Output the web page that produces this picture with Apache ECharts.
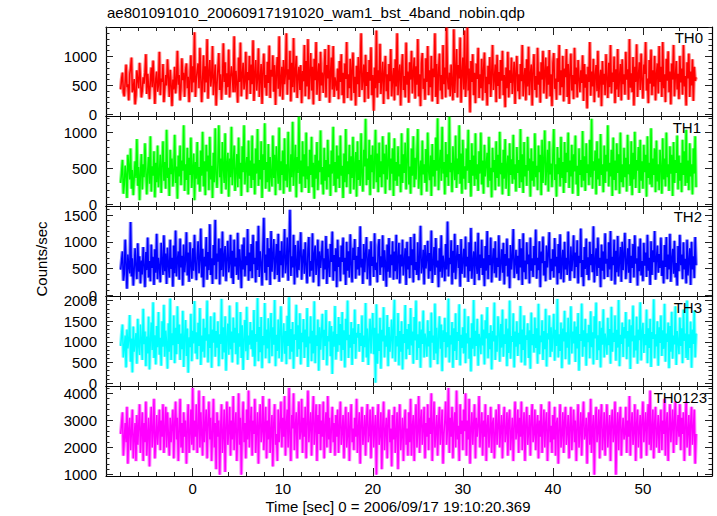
<!DOCTYPE html>
<html><head><meta charset="utf-8">
<script src="https://cdn.jsdelivr.net/npm/echarts@6/dist/echarts.min.js"></script>
<style>html,body{margin:0;padding:0;background:#fff}#c{width:717px;height:516px}</style>
</head><body><div id="c"></div>
<script>
const plotTitle = 'ae801091010_20060917191020_wam1_bst_4band_nobin.qdp';
const xTitle = 'Time [sec] 0 = 2006/09/17 19:10:20.369';
const yTitle = 'Counts/sec';
const bandNames = ['TH0', 'TH1', 'TH2', 'TH3', 'TH0123'];
const bandColors = ['#ff0000', '#00ff00', '#0000ff', '#00ffff', '#ff00ff'];
const tStart = -8, binSize = 0.1;

const th0 = [
430,610,720,380,310,560,860,470,520,240,690,800,980,380,450,610,170,330,760,590,
450,890,620,290,410,640,530,720,1040,350,700,480,260,590,810,470,930,540,180,620,
740,390,510,1080,330,620,560,870,210,450,680,500,950,640,300,770,520,140,600,430,
820,360,580,1100,510,680,240,470,970,590,720,300,760,880,450,650,210,640,1020,380,
830,550,1420,300,610,760,880,450,1150,620,210,640,1020,380,830,550,1300,270,720,940,
480,640,1180,330,610,860,150,520,790,1060,420,690,250,570,1230,560,900,340,710,470,
1120,290,640,830,640,380,1350,380,750,520,200,980,560,1240,310,680,890,430,580,1080,
260,730,590,1010,350,860,520,1280,230,700,940,410,620,1140,300,620,870,180,760,1050,
460,680,320,910,540,1190,280,770,650,1020,390,850,160,720,990,440,1350,310,600,820,
250,940,520,700,1400,340,780,600,1100,220,890,470,1320,380,730,1010,280,660,820,420,
850,190,750,570,1200,310,920,480,1300,260,700,1060,410,820,170,960,590,1250,340,680,
880,230,1080,500,720,370,760,1130,290,850,620,1200,200,710,980,430,1180,300,640,540,
410,790,260,920,560,1040,330,720,190,880,610,1250,280,690,450,960,240,780,1070,370,
650,150,840,520,990,300,710,1400,420,620,860,210,1030,490,730,270,940,580,1160,330,
680,60,810,450,1450,290,760,540,1220,350,640,910,180,730,1010,400,690,260,870,570,
1130,310,620,800,240,950,480,1400,330,700,860,150,780,1040,420,660,290,1240,510,740,
200,900,600,1100,360,720,980,270,830,510,1300,310,690,140,880,1060,440,620,250,970,
560,1180,330,760,470,1010,220,790,640,1400,300,870,180,720,1050,410,680,260,1200,520,
810,290,1500,610,430,720,310,860,520,240,1470,370,760,1130,290,850,620,1330,200,710,
980,430,1450,300,640,1500,410,790,30,920,560,1040,330,720,190,880,610,1150,280,690,
450,960,240,780,1070,370,650,150,840,520,990,300,710,1200,420,620,860,210,1030,490,
730,270,940,580,1100,330,680,120,810,450,1080,290,760,540,980,350,640,910,180,730,
1010,400,690,260,870,570,1200,310,620,800,240,950,480,1170,330,700,860,150,780,1040,
420,660,290,1150,510,740,200,900,600,1100,360,720,980,270,830,510,1110,310,690,140,
880,1060,440,620,250,970,560,1200,330,760,470,1010,220,790,640,1130,300,870,180,720,
1050,410,680,260,1150,520,810,290,940,610,380,760,540,1020,230,870,460,690,100,820,
560,1250,320,740,480,960,210,680,850,400,1100,290,630,770,140,920,510,700,330,1040,
610,280,890,470,1200,360,720,560,1000,190,780,430,1130,300,660,870,240,950,520,690,
340,1080,600,780,250,1300,460,710,380,990,150,820,560,1210,300,670,900,420,1050,590,
270,860,700,1250,410,620,190,940,530,1120,330,760,480,1010,240,700,880,360,1180,560,
820,300,1250,450,690,210,960,580,1090,380,740,170,880,600,1200,310,650,920,430,700,
260,1010,550,790,340,1200,480,660,150,900,620,1050,300,740,500,950,230,820,580,640];

const th1 = [
300,450,620,150,280,540,410,90,690,520,350,780,220,480,130,370,600,370,910,260,
520,60,440,700,210,560,380,850,470,140,470,660,290,950,180,530,400,740,100,580,
310,820,240,450,690,160,550,880,330,590,220,1040,370,510,120,760,420,640,250,470,
970,300,530,80,680,390,820,270,610,470,1100,190,560,340,790,140,650,410,930,230,
500,710,60,590,360,870,280,520,180,750,400,1010,250,600,130,830,460,680,200,940,
350,540,90,720,310,1060,420,230,580,1100,380,640,150,870,500,300,990,210,570,720,
110,640,380,1080,270,550,820,190,460,700,240,930,360,580,120,810,450,1100,280,530,
660,170,890,400,610,230,960,340,570,140,780,430,1050,260,620,350,880,90,700,480,
1130,220,590,310,840,180,660,400,250,960,370,690,130,810,520,290,1070,200,600,410,
750,150,920,330,560,240,1010,450,180,700,380,1150,260,540,830,100,660,440,1220,290,
610,170,880,390,700,230,1000,350,530,160,760,410,940,240,580,80,690,360,870,200,
610,450,1030,280,520,140,790,330,620,210,900,380,560,120,750,430,1080,260,590,170,
820,360,680,230,960,400,540,90,710,310,1050,240,600,420,830,150,670,370,940,210,
550,730,110,880,340,620,260,990,400,180,760,530,1190,270,640,340,900,130,690,450,
820,220,580,1040,310,710,170,860,380,600,240,950,420,710,150,830,350,560,1000,200,
640,430,780,120,920,330,590,260,810,390,560,170,990,300,700,440,860,210,620,1060,
280,530,150,780,400,950,240,650,350,700,1050,220,480,610,130,890,420,560,300,770,
180,1000,460,340,680,120,840,390,620,250,930,470,1200,200,560,760,330,1080,430,590,
140,870,380,700,260,1220,450,580,170,810,520,340,960,230,640,420,1100,290,710,150,
900,360,530,210,780,470,1040,300,620,110,850,400,680,260,990,350,560,190,740,430,
1000,280,610,150,830,390,560,720,240,940,330,510,100,790,450,620,200,880,370,690,
250,1010,420,580,140,760,360,910,220,540,680,120,850,410,630,290,970,350,560,180,
800,440,620,230,1050,310,700,160,870,390,550,260,940,470,640,110,780,330,600,250,
990,380,540,200,820,450,690,130,900,300,610,1030,270,500,760,180,880,420,570,240,
680,1050,340,560,110,800,420,650,250,940,370,590,160,870,300,720,450,1000,230,610,
390,830,150,700,460,960,280,540,120,780,410,620,240,1020,330,670,190,850,440,560,
270,900,380,1190,220,600,470,750,140,880,350,640,260,980,410,560,170,820,300,690,
460,1100,250,580,390,760,120,930,340,610,200,850,440,700,150,1000,310,560,240,790,
380,650,180,970,420,560,260,880,130,720,350,1010,230,620,470,800,160,900,330,600,
220,830,450,690,110,950,370,580,280,1060,240,640,410,780,170,890,320,560,200,760,
500,150,920,350,640,250,1000,380,560,190,810,430,690,120,870,300,620,440,960,210,
680,330,580,170,900,410,740,260,1040,300,610,200,850,390,560,140,780,430,950,240];

const th2 = [
480,650,820,270,400,1040,600,120,760,540,410,1370,350,690,180,480,880,520,300,970,
440,730,220,650,390,900,560,150,810,470,1080,330,640,260,950,510,720,190,860,420,
1150,300,700,540,240,980,620,380,1120,450,780,210,890,570,330,1040,490,700,160,930,
410,1210,350,660,820,290,1060,520,740,180,950,430,640,1180,370,800,250,990,560,310,
880,460,1130,600,280,760,1010,410,650,1250,330,870,150,720,540,1090,290,810,470,1330,
380,690,210,940,560,1410,300,780,630,1060,200,880,470,1190,350,740,920,260,680,1020,
430,590,1130,320,830,210,1040,540,700,380,1170,290,860,620,130,950,480,1080,350,730,
560,1240,270,800,450,960,320,1130,580,700,240,1010,470,1300,340,820,610,180,900,1450,
420,760,280,1070,530,880,190,1200,440,740,1050,300,650,960,380,1150,250,830,560,1010,
330,700,1240,410,610,1080,270,850,1600,360,730,520,1130,200,940,610,330,1020,470,790,
1180,290,680,860,400,990,560,220,870,1090,350,640,460,1160,240,780,930,380,600,1040,
170,820,510,730,1020,300,690,480,1110,210,870,560,340,960,620,1190,270,750,450,880,
150,1040,530,710,260,930,620,1080,390,700,190,1000,460,820,330,1140,570,240,890,660,
1050,310,740,480,900,370,1290,520,680,210,960,430,780,1090,300,640,860,180,1010,550,
720,340,1160,470,610,240,890,1050,380,730,520,1120,270,840,600,160,950,440,1070,330,
760,560,1010,290,820,450,1130,300,690,980,220,760,540,1040,370,650,880,190,1000,480,
730,320,1090,560,860,240,1150,470,620,380,990,280,700,1300,410,560,850,200,940,500,
680,1020,310,790,450,1210,230,600,900,380,1070,520,650,150,880,440,1120,330,740,590,
260,960,480,1380,350,700,580,1030,200,830,420,1150,300,690,940,510,770,160,1050,400,
640,870,330,1100,540,720,250,990,450,1260,310,640,820,190,1000,580,400,1170,280,760,
510,1040,380,690,170,920,460,1200,300,750,560,1080,240,650,880,410,1010,330,700,530,
1120,270,610,860,420,980,200,770,550,1060,350,690,130,940,480,710,1240,320,600,850,
400,740,280,1050,520,880,190,1160,430,650,300,990,580,760,220,1080,460,690,340,920,
560,1230,310,700,470,1010,150,820,600,1100,370,640,260,930,520,780,1180,290,680,450,
860,330,1070,540,720,200,960,410,1140,300,650,850,240,1000,480,700,380,1190,560,270,
910,450,690,1120,320,800,530,1030,220,740,600,1250,340,660,170,900,490,1060,380,710,
280,1000,560,770,430,1290,240,640,880,360,1080,510,700,150,950,460,820,300,1160,590,
680,340,990,480,1200,270,720,560,1040,200,830,430,1110,350,650,900,250,1000,470,760,
1170,300,610,880,420,1050,230,740,510,960,330,1120,590,690,180,910,450,1060,370,640,
260,980,550,800,340,1130,460,700,190,1010,380,840,620,1200,290,680,930,420,770,510,
1080,360,650,220,940,530,1090,300,760,480,1150,250,690,870,400,1020,330,600,180,920,
450,1130,560,760,300,990,480,680,220,1040,370,650,880,190,1000,480,730,320,1090,560];

const th3 = [
900,1180,1420,620,850,1150,380,1300,840,1050,1650,520,1080,260,1370,760,980,1210,470,1560,
900,680,1420,1010,560,1800,940,1250,410,1130,720,1610,330,1040,1470,800,1960,610,1160,450,
1380,870,1720,690,1100,420,1500,880,1900,640,1270,990,350,1450,760,2050,560,1210,920,1640,
480,1340,700,1860,950,1420,560,1200,820,1750,390,1080,1530,660,1320,250,1110,870,1680,530,
1270,960,1990,720,1230,580,1460,900,1820,440,1150,760,1560,620,1340,1030,2000,500,1180,850,
1620,370,1300,980,1710,640,1260,860,1500,410,1180,950,2040,580,1350,740,1620,300,1120,1440,
690,1880,820,1250,500,1590,980,1340,700,1960,450,1210,880,1720,610,1400,320,1070,1530,770,
1850,560,1150,930,1480,820,1280,640,1770,410,1190,1000,2060,530,1360,750,1600,360,1140,920,
1940,600,1300,840,1570,480,1220,1700,650,1350,930,2010,410,1170,780,1540,600,1290,1860,520,
1040,1450,710,1260,460,1630,900,2080,580,1310,760,1480,350,1180,1050,1900,640,1400,820,1690,
450,1220,990,1550,610,1300,870,1820,390,1130,960,1620,530,1270,720,1980,480,1160,900,1540,
300,1350,810,1200,1680,560,1290,900,1770,430,1140,1010,1500,650,1380,220,1250,880,1870,570,
1190,760,1600,920,1430,540,1720,800,1280,380,1560,1040,2000,610,1170,860,1480,440,1330,950,
1780,590,1220,1100,1430,760,1210,900,1640,510,1150,870,1940,620,1320,440,1090,1560,720,1280,
1700,700,1340,10,1910,470,1200,780,1580,350,1290,1010,1840,620,1150,880,1650,410,1360,760,
1080,1540,600,1320,2020,520,1140,890,1700,430,1260,760,1500,330,1190,970,1890,580,1310,820,
1430,680,1820,910,1250,470,1600,1030,2000,560,1180,850,1490,370,1300,950,1760,620,1200,1050,
640,1520,890,1260,380,1710,980,1150,560,1930,720,1340,460,1110,1620,830,1420,290,1280,1000,
1580,620,1230,870,2050,500,1160,940,1480,370,1330,780,1690,560,1240,1020,1910,430,1170,850,
1350,720,1800,480,1210,960,1620,590,1100,280,1450,830,2010,650,1270,900,1560,420,1190,1040,
700,1660,910,1300,450,1520,1080,1840,600,1210,820,1400,330,1260,1010,1950,560,1150,760,1620,
1240,520,1430,860,1780,640,1180,950,1560,410,1320,730,2000,590,1140,1000,1690,380,1250,880,
1500,660,1220,940,1870,500,1300,800,1640,430,1160,1050,1450,610,1280,350,1710,920,1190,740,
1590,850,1330,470,1920,700,1150,990,1520,560,1260,820,1800,400,1210,1060,1640,630,1350,760,
1160,1680,540,1290,900,2040,620,1180,780,1470,360,1320,1010,1750,580,1230,860,1580,450,1140,
1860,720,1250,960,1490,510,1370,840,1700,300,1190,1020,1930,640,1280,880,1560,420,1210,990,
1410,600,1740,870,1230,450,1620,1080,1950,560,1160,800,1500,380,1340,930,1790,620,1200,1030,
690,1580,920,1310,470,1850,760,1220,1000,1640,540,1290,860,2010,410,1170,950,1470,630,1360,
1080,1720,580,1260,880,1540,340,1400,1010,1880,620,1150,790,1610,470,1300,1040,1960,550,1230,
1460,730,1190,920,1780,480,1330,850,1560,390,1240,1070,2030,600,1180,890,1500,420,1350,970,
1640,660,1280,830,1920,520,1200,1000,1470,360,1380,760,1730,590,1150,940,1860,440,1260,1010,
700,1590,900,1330,480,1780,1020,1200,610,2000,560,1180,850,1490,370,1300,950,1760,620,1200];

const th0123 = [
2500,2900,3300,1700,2300,2900,2200,3500,1400,2700,3100,1900,2600,3400,1600,2400,2900,1500,3200,2100,
2800,3600,1800,2600,3300,1500,2900,2200,3700,1700,2500,3100,1300,2800,3500,2000,2600,3800,1600,2400,
3200,2100,2700,3400,1900,3000,2400,3600,1800,2700,3500,2000,3300,2500,1700,3100,2200,2800,3400,1600,
2900,3700,2300,3100,1500,2600,3800,2000,2900,1800,3300,2400,3000,1400,2700,3600,1800,2500,3400,2100,
4200,1900,3000,2400,3600,1800,2700,4100,2000,3300,2500,1700,3900,2200,2800,3400,1600,2900,3700,2300,
3100,1500,2600,3800,2000,2900,1200,3300,2400,3000,1000,2700,3600,1800,2500,3400,1100,2800,3700,2100,
2600,3500,1700,3000,2300,3900,1900,2800,3300,1500,2600,4000,2100,3100,1000,2700,3700,2200,2900,1600,
3400,2300,4100,2000,2800,3500,1700,3000,2500,3800,1800,2700,3300,1400,2900,3600,2200,2600,3900,1900,
2800,3500,1600,3000,2300,3800,1800,2600,3200,1300,2900,3600,2100,2500,1500,3400,2200,2800,3700,2000,
3100,2400,3900,1700,2900,3400,2000,4200,2500,1500,3200,2700,4000,1900,2800,3300,1600,3000,3700,2300,
2600,3800,1800,3100,2400,3500,1600,2900,4100,2200,2800,3300,1700,3000,3900,2100,2700,3600,1500,3200,
2500,3600,1900,3000,2400,3700,1600,2800,3300,2000,3900,2300,3100,1800,2700,3500,2200,2900,1700,3200,
2400,3400,1800,2800,3700,2100,2600,3200,1600,2900,3500,2000,2500,3300,1500,2800,3600,2200,2700,1900,
3100,2400,3800,1800,2700,3300,1400,2900,3500,2100,2600,3200,1700,3000,3600,2200,2500,3400,1600,2800,
3500,2000,2700,3200,1000,2900,3600,2100,2500,3300,1200,2800,3700,1900,2600,3100,1600,3000,3400,2200,
2700,1300,3200,2300,3500,1800,2600,3300,1200,2900,3600,1900,2500,3100,1500,2800,3400,2100,2700,1700,
3300,2200,3800,1700,2800,3200,1500,2900,3600,2000,2600,3900,1800,3000,3400,2100,2700,3500,1600,2900,
2400,3600,1900,3100,2500,4000,1500,2800,3700,2000,2600,3200,1700,2900,3500,2100,2700,3400,1400,2500,
3000,3700,2100,2700,4200,1800,3100,2400,3500,1600,2900,3300,2000,4100,2300,2800,1500,3600,2500,3000,
1900,3400,2600,4000,1700,3000,2300,3800,1400,2700,3300,2100,2900,3600,1600,3100,2400,2800,3900,2000,
2700,3300,1700,3000,2400,3600,1500,2800,3200,2000,2600,3500,1800,2900,3100,1600,2500,3400,2100,2800,
3600,2000,2700,3200,1600,2900,3500,2200,2600,3300,1700,3000,3400,1900,2500,3100,1500,2800,3700,2300,
2600,3400,1800,3100,2400,3700,1900,2700,3300,1500,2900,3500,2100,2600,3200,1700,3000,3600,2200,2500,
3400,1900,2800,3200,1600,3000,2400,3600,1800,2700,3400,2000,2900,3300,1500,2600,3700,2200,2800,1800,
3200,2300,3500,1700,2900,3100,1400,2700,3600,2000,2500,3300,1800,3000,3500,2100,2600,3200,1600,2800,
3500,1900,2700,3400,2200,3000,1500,2800,3600,2000,2600,3300,1700,2900,3700,2300,2500,3100,1400,2800,
3300,2100,3800,1800,2700,3200,1000,2900,3500,2200,2600,3400,1600,3000,3600,1900,2500,3300,1700,2800,
3600,2000,2700,3200,1500,2900,3400,2200,2600,3700,1000,2800,3300,1900,3000,3500,1700,2600,3100,2300,
2500,3500,1800,3000,2400,3900,1700,2800,3300,2100,2600,3600,1500,2900,3400,2000,2700,3200,1600,3000,
3700,2200,2800,3300,1700,3000,3600,2100,4100,1900,2700,3400,1600,2900,3500,2000,2600,3200,1800,2800,
3400,1900,3000,2500,3800,1700,2900,3300,1500,2700,3600,2200,2800,3400,1800,3000,3700,2100,2600,3200,
2400,3600,1900,3100,2500,3300,1500,2800,3700,2000,2600,3200,1700,2900,3500,2100,2700,3400,1400,2500];

const bandValues = [th0, th1, th2, th3, th0123];

const xMin = -9.63, xMax = 57.67;
const xMajorTicks = [0, 10, 20, 30, 40, 50];
const xMinorStep = 2;
const yRanges = [[-30, 1510], [-20, 1230], [-15, 1670], [-70, 2110], [950, 4270]];
const yMajorTicks = [[0, 500, 1000], [0, 500, 1000], [0, 500, 1000, 1500], [0, 500, 1000, 1500, 2000], [1000, 2000, 3000, 4000]];
const yMinorSteps = [100, 100, 100, 100, 200];

const panelTops = [27, 116, 206, 296, 386];
const panelBottoms = [116, 206, 296, 386, 476];
const labelRight = [703, 701, 702, 702, 707];
const labelMidY = [37.5, 127.5, 216, 307, 397];

const FONT = 'Liberation Sans, Arial, Helvetica, sans-serif';
const chart = echarts.init(document.getElementById('c'), null, { renderer: 'svg' });

function steps(lo, hi, step) {
  const out = [];
  for (let v = Math.ceil(lo / step) * step; v <= hi + 1e-9; v += step) out.push(+v.toFixed(6));
  return out;
}
const xMinor = steps(xMin, xMax, xMinorStep);
const plain = v => String(v);

const grids = [], xAxes = [], yAxes = [], series = [];
const tickStyle = { color: '#222', width: 1 };
for (let i = 0; i < 5; i++) {
  grids.push({ left: 106, right: 5, top: panelTops[i], height: panelBottoms[i] - panelTops[i], show: false });
  const xBase = (pos, major, withLabels) => ({
    type: 'value', gridIndex: i, position: pos, min: xMin, max: xMax,
    axisLine: { show: major, onZero: false, lineStyle: { color: '#000', width: 1.2 } },
    splitLine: { show: false },
    axisTick: { show: true, inside: true, length: major ? 8 : 4, customValues: major ? xMajorTicks : xMinor, lineStyle: tickStyle },
    axisLabel: withLabels ? { show: true, customValues: xMajorTicks, formatter: plain, fontSize: 15, fontFamily: FONT, color: '#000', margin: 5 } : { show: false }
  });
  const xi = xAxes.length;
  xAxes.push(xBase('bottom', true, i === 4), xBase('bottom', false, false), xBase('top', true, false), xBase('top', false, false));
  const [ymin, ymax] = yRanges[i];
  const yMinor = steps(Math.max(ymin, 0), ymax, yMinorSteps[i]);
  const yBase = (pos, major, withLabels) => ({
    type: 'value', gridIndex: i, position: pos, min: ymin, max: ymax,
    axisLine: { show: major, onZero: false, lineStyle: { color: '#000', width: 1.2 } },
    splitLine: { show: false },
    axisTick: { show: true, inside: true, length: major ? 7 : 3.5, customValues: major ? yMajorTicks[i] : yMinor, lineStyle: tickStyle },
    axisLabel: withLabels ? { show: true, customValues: yMajorTicks[i], formatter: plain, fontSize: 15, fontFamily: FONT, color: '#000', margin: 9 } : { show: false }
  });
  const yi = yAxes.length;
  yAxes.push(yBase('left', true, true), yBase('left', false, false), yBase('right', true, false), yBase('right', false, false));
  const pts = bandValues[i].map((v, k) => [tStart + k * binSize, v]);
  // soft halo underneath (lighter edges, as in the reference rendering)
  series.push({
    type: 'line', name: bandNames[i] + ' halo', xAxisIndex: xi, yAxisIndex: yi, data: pts, z: 1,
    showSymbol: false, symbol: 'none', silent: true, animation: false, sampling: 'none',
    lineStyle: { color: bandColors[i], width: 3.6, opacity: 0.5, join: 'bevel' }
  });
  series.push({
    type: 'line', name: bandNames[i], xAxisIndex: xi, yAxisIndex: yi, data: pts, z: 2,
    showSymbol: false, symbol: 'none', silent: true, animation: false, sampling: 'none',
    lineStyle: { color: bandColors[i], width: 1.5, join: 'bevel' }
  });
}

const graphics = [
  { type: 'text', left: 107, top: 5, style: { text: plotTitle, font: '15px ' + FONT, fill: '#000' } },
  { type: 'text', x: 398, y: 506, style: { text: xTitle, font: '15px ' + FONT, fill: '#000', align: 'center', verticalAlign: 'middle' } },
  { type: 'text', x: 41, y: 259, rotation: Math.PI / 2, style: { text: yTitle, font: '15px ' + FONT, fill: '#000', align: 'center', verticalAlign: 'middle' } }
];
for (let i = 0; i < 5; i++) {
  graphics.push({ type: 'text', x: labelRight[i], y: labelMidY[i], z: 100, style: { text: bandNames[i], font: '15px ' + FONT, fill: '#000', align: 'right', verticalAlign: 'middle' } });
}

chart.setOption({
  animation: false,
  backgroundColor: '#fff',
  grid: grids, xAxis: xAxes, yAxis: yAxes, series: series,
  graphic: graphics
});
</script></body></html>
